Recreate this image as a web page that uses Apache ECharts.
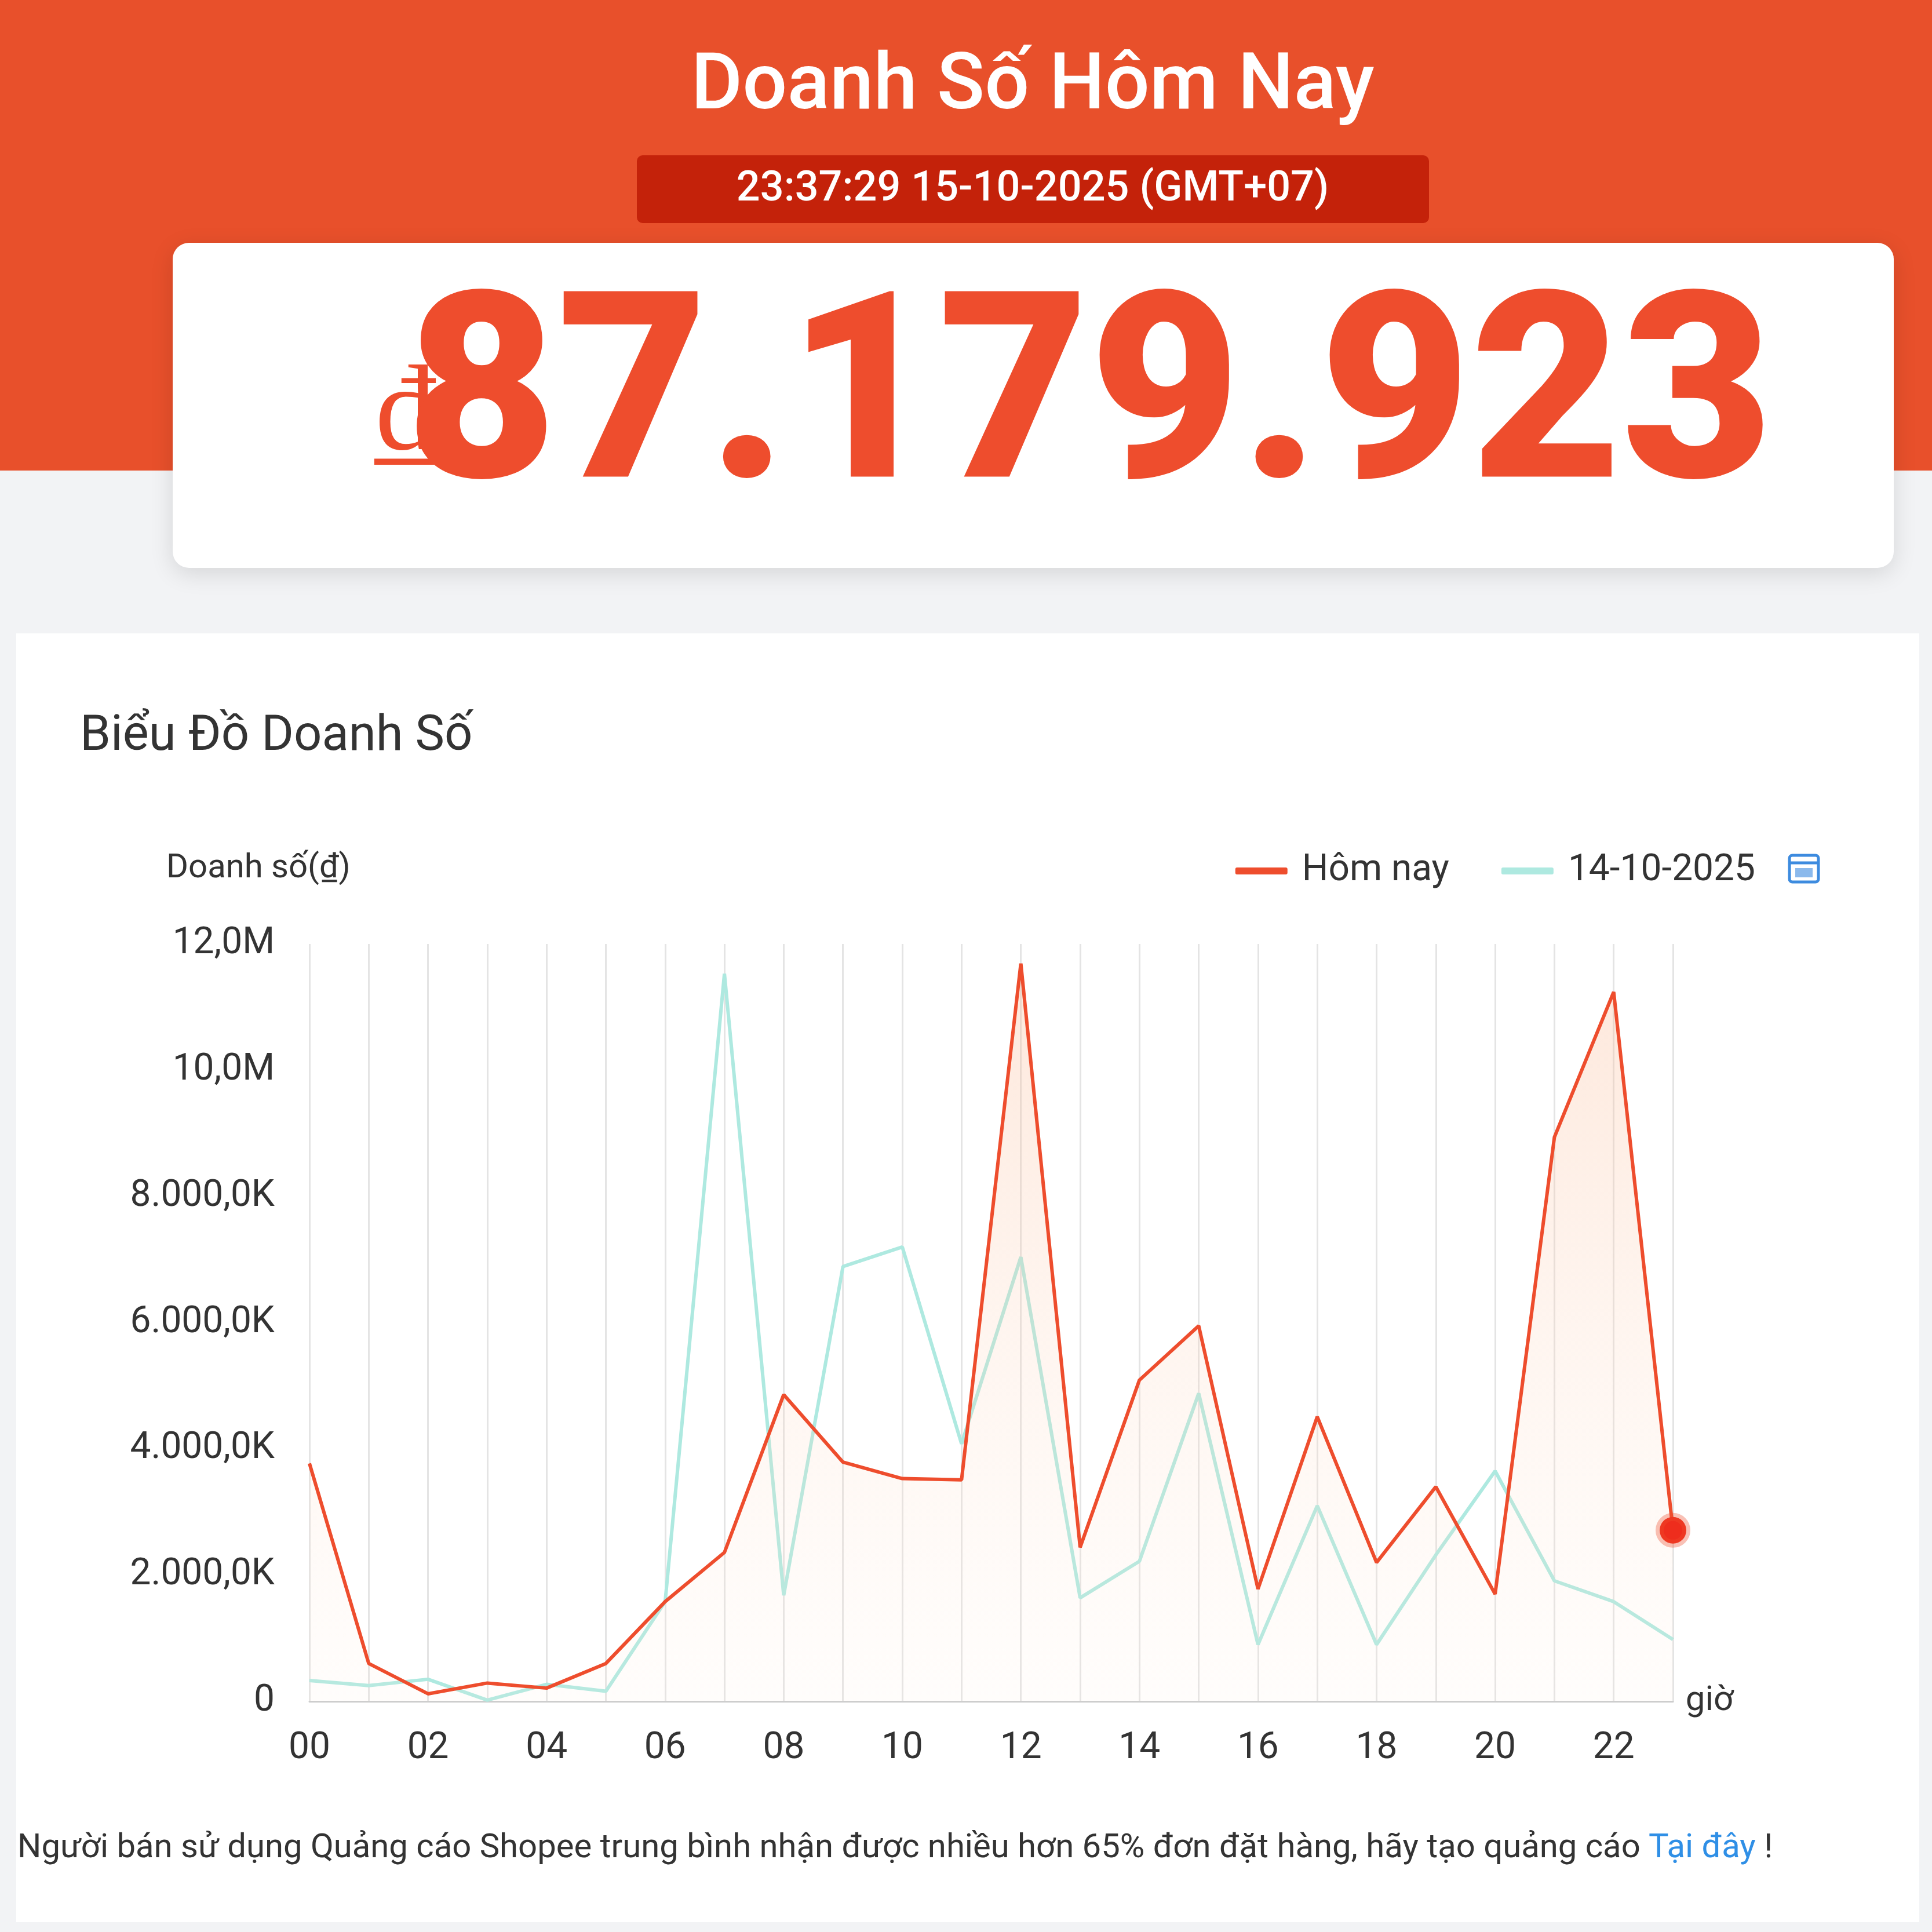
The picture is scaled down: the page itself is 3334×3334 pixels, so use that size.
<!DOCTYPE html>
<html><head><meta charset="utf-8">
<script src="https://cdn.jsdelivr.net/npm/echarts@6/dist/echarts.min.js"></script>
<style>html,body{margin:0;padding:0;background:#f2f3f5}#c{width:3334px;height:3334px}</style>
</head><body><div id="c"></div>
<script>
const hours = ['00','01','02','03','04','05','06','07','08','09','10','11','12','13','14','15','16','17','18','19','20','21','22','23'];
const today = [3.77,0.6,0.12,0.29,0.21,0.6,1.58,2.36,4.86,3.79,3.53,3.51,11.69,2.44,5.09,5.95,1.78,4.51,2.2,3.4,1.7,8.94,11.24,2.71];
const yesterday = [0.33,0.25,0.35,0.02,0.27,0.16,1.58,11.53,1.68,6.89,7.2,4.08,7.04,1.64,2.22,4.88,0.9,3.1,0.9,2.32,3.65,1.91,1.58,0.98];
const todayVals = today.map(v => v * 1e6);
const yesterdayVals = yesterday.map(v => v * 1e6);
const F = 'Roboto, "Noto Sans", sans-serif';
function fmt(v){
  if (v === 0) return '0';
  if (v >= 1e7) return (v/1e6).toFixed(1).replace('.', ',') + 'M';
  const k = v/1e3;
  return k.toLocaleString('de-DE',{minimumFractionDigits:1,maximumFractionDigits:1}) + 'K';
}
const chart = echarts.init(document.getElementById('c'));
const last = todayVals.length - 1;
chart.setOption({
  animation:false,
  backgroundColor:'#f2f3f5',
  graphic:[
    {type:'rect',shape:{x:0,y:0,width:3334,height:812},style:{fill:'#e8502b'},z:-10},
    {type:'text',x:1782,y:153,style:{text:'Doanh Số Hôm Nay',font:'500 136px '+F,fill:'#fff',align:'center',verticalAlign:'middle'}},
    {type:'rect',shape:{x:1099,y:268,width:1367,height:117,r:10},style:{fill:'#c4220a'}},
    {type:'text',x:1782,y:328,style:{text:'23:37:29 15-10-2025 (GMT+07)',font:'500 72px '+F,fill:'#fff',align:'center',verticalAlign:'middle'}},
    {type:'rect',shape:{x:298,y:419,width:2970,height:561,r:28},style:{fill:'#fff',shadowBlur:40,shadowColor:'rgba(0,0,0,0.12)',shadowOffsetY:10}},
    {type:'text',x:700,y:720,style:{text:'₫',font:'210px "Liberation Serif", serif',fill:'#ee4d2d',align:'center',verticalAlign:'middle'}},
    {type:'text',x:1880,y:710,style:{text:'87.179.923',font:'900 450px '+F,fill:'#ee4d2d',align:'center',verticalAlign:'middle'}},
    {type:'rect',shape:{x:28,y:1093,width:3284,height:2224},style:{fill:'#fff'},z:-5},
    {type:'text',x:138,y:1273,style:{text:'Biểu Đồ Doanh Số',font:'85px '+F,fill:'#333',verticalAlign:'middle'}},
    {type:'text',x:287,y:1499,style:{text:'Doanh số(₫)',font:'58px '+F,fill:'#333',verticalAlign:'middle'}},
    {type:'text',x:2950,y:2936,style:{text:'giờ',font:'60px '+F,fill:'#333',align:'center',verticalAlign:'middle'}},
    {type:'group',x:3088,y:1476,children:[
      {type:'rect',shape:{x:0,y:0,width:50,height:46,r:5},style:{fill:'none',stroke:'#3d8bdf',lineWidth:5}},
      {type:'line',shape:{x1:0,y1:13,x2:50,y2:13},style:{stroke:'#3d8bdf',lineWidth:5}},
      {type:'rect',shape:{x:10,y:22,width:30,height:16},style:{fill:'#3d8bdf',opacity:0.6}}
    ]},
    {type:'text',x:30,y:3190,style:{rich:{a:{font:'58px '+F,fill:'#333'},b:{font:'58px '+F,fill:'#2f8fe6'}},text:'{a|Người bán sử dụng Quảng cáo Shopee trung bình nhận được nhiều hơn 65% đơn đặt hàng, hãy tạo quảng cáo }{b|Tại đây}{a| !}',verticalAlign:'middle'}}
  ],
  legend:{right:300,top:1466,itemWidth:90,itemHeight:12,itemGap:90,textStyle:{fontSize:64,fontFamily:F,color:'#333',padding:[0,0,0,20]},
    data:[{name:'Hôm nay',icon:'roundRect'},{name:'14-10-2025',icon:'roundRect'}]},
  grid:{left:534,right:447,top:1629,bottom:398,containLabel:false},
  xAxis:{type:'category',data:hours,boundaryGap:false,
    axisLine:{lineStyle:{color:'#ccc',width:3}},axisTick:{show:false},
    axisLabel:{interval:1,fontSize:64,fontFamily:F,color:'#333',margin:50},
    splitLine:{show:true,interval:0,lineStyle:{color:'#e4e4e4',width:3}}},
  yAxis:{type:'value',min:0,max:12e6,interval:2e6,
    axisLabel:{formatter:fmt,fontSize:64,fontFamily:F,color:'#333',margin:60},
    splitLine:{show:false},axisLine:{show:false},axisTick:{show:false}},
  series:[
    {name:'14-10-2025',type:'line',data:yesterdayVals,symbol:'none',lineStyle:{color:'#aee9e0',width:6},itemStyle:{color:'#aee9e0'},z:2},
    {name:'Hôm nay',type:'line',z:3,
      data:todayVals.map((v,i)=> i===last ? {value:v,symbol:'circle',symbolSize:46,itemStyle:{color:'#ee2d1d',borderColor:'rgba(238,77,45,0.35)',borderWidth:14}} : v),
      symbol:'none',showSymbol:true,lineStyle:{color:'#ee4d2d',width:6},itemStyle:{color:'#ee4d2d'},
      areaStyle:{color:new echarts.graphic.LinearGradient(0,0,0,1,[{offset:0,color:'rgba(250,180,140,0.45)'},{offset:1,color:'rgba(255,235,220,0.15)'}])}}
  ]
});
</script></body></html>
